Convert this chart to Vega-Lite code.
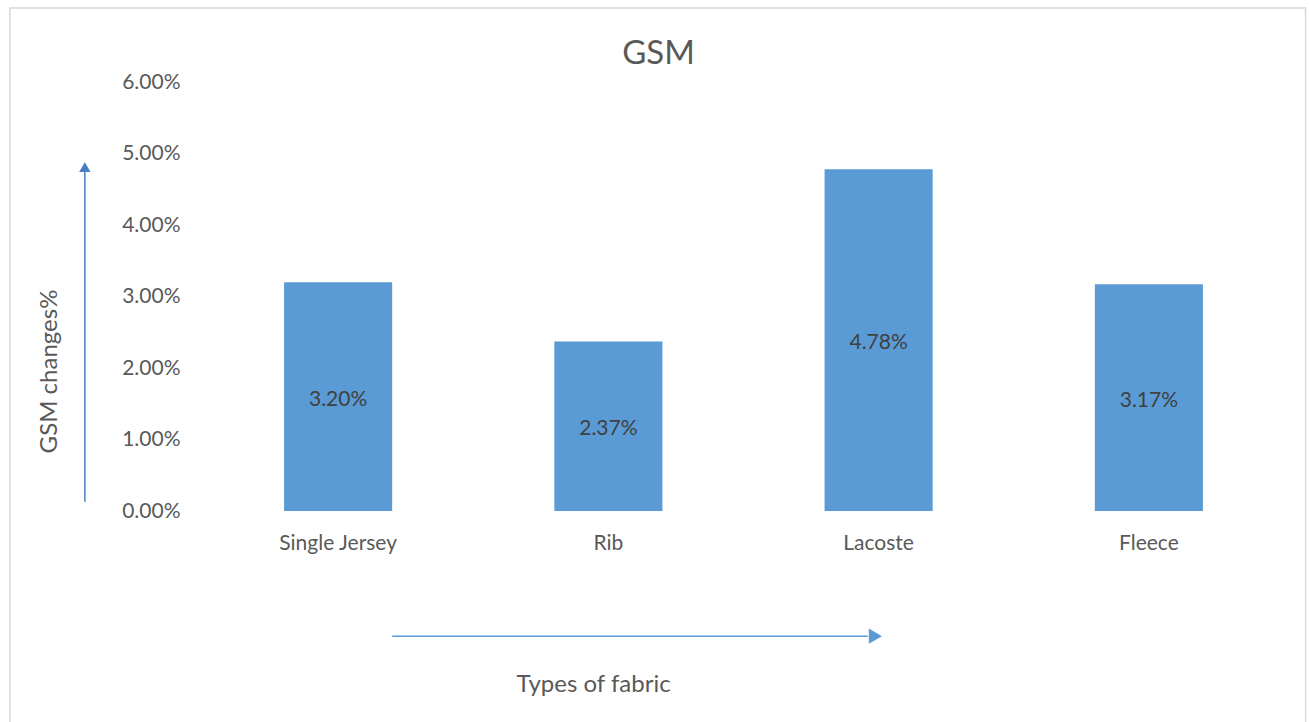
{
  "$schema": "https://vega.github.io/schema/vega-lite/v6.json",
  "width": 1081,
  "height": 429,
  "autosize": {"type": "none"},
  "padding": {"left": 203, "top": 82, "right": 25, "bottom": 211},
  "background": "white",
  "config": {
    "font": "Lato",
    "view": {"stroke": null},
    "axis": {"labelColor": "#595959", "titleColor": "#595959", "labelFont": "Lato", "titleFont": "Lato"}
  },
  "title": {
    "text": "GSM",
    "fontSize": 33,
    "fontWeight": "normal",
    "color": "#595959",
    "font": "Lato",
    "baseline": "alphabetic",
    "offset": -90,
    "dx": -85
  },
  "data": {
    "values": [
      {"fabric": "Single Jersey", "change": 0.032},
      {"fabric": "Rib", "change": 0.0237},
      {"fabric": "Lacoste", "change": 0.0478},
      {"fabric": "Fleece", "change": 0.0317}
    ]
  },
  "encoding": {
    "x": {
      "field": "fabric",
      "type": "nominal",
      "sort": null,
      "scale": {"domain": ["Single Jersey", "Rib", "Lacoste", "Fleece"], "paddingInner": 0.6, "paddingOuter": 0.3},
      "axis": {
        "title": "Types of fabric",
        "labelAngle": 0,
        "labelFontSize": 21,
        "labelPadding": 21,
        "titleFontSize": 24,
        "titleFontWeight": "normal",
        "titleX": 390,
        "titleY": 180,
        "titleBaseline": "alphabetic",
        "domain": false,
        "ticks": false
      }
    }
  },
  "layer": [
    {
      "data": {"values": [{}]},
      "mark": {"type": "rect", "fill": null, "stroke": "#D9D9D9", "strokeWidth": 1.5},
      "encoding": {
        "x": {"datum": "Single Jersey", "type": "nominal", "bandPosition": -2.537},
        "x2": {"datum": "Fleece", "bandPosition": 1.95},
        "y": {"datum": 0.07035},
        "y2": {"datum": -0.03}
      }
    },
    {
      "mark": {"type": "bar", "color": "#5B9BD5"},
      "encoding": {
        "y": {
          "field": "change",
          "type": "quantitative",
          "scale": {"domain": [0, 0.06]},
          "axis": {
            "title": "GSM changes%",
            "format": ".2%",
            "values": [0, 0.01, 0.02, 0.03, 0.04, 0.05, 0.06],
            "labelOverlap": false,
            "labelFontSize": 21,
            "labelPadding": 23,
            "titleFontSize": 24,
            "titleFontWeight": "normal",
            "titleX": -147,
            "titleY": 289,
            "titleAngle": -90,
            "titleAlign": "center",
            "titleBaseline": "alphabetic",
            "domain": false,
            "ticks": false,
            "gridColor": "#D9D9D9",
            "gridWidth": 1.3
          }
        }
      }
    },
    {
      "transform": [{"calculate": "datum.change / 2", "as": "mid"}],
      "mark": {"type": "text", "fontSize": 21, "color": "#404040", "baseline": "middle", "dy": 3},
      "encoding": {
        "y": {"field": "mid", "type": "quantitative"},
        "text": {"field": "change", "type": "quantitative", "format": ".2%"}
      }
    },
    {
      "data": {"values": [{}]},
      "mark": {"type": "rule", "color": "#4A7EC4", "strokeWidth": 1.5},
      "encoding": {
        "x": {"datum": "Single Jersey", "type": "nominal", "bandPosition": -1.843},
        "y": {"datum": 0.0013},
        "y2": {"datum": 0.0474}
      }
    },
    {
      "data": {"values": [{}]},
      "mark": {"type": "point", "shape": "triangle-up", "filled": true, "color": "#4A7EC4", "size": 130, "opacity": 1},
      "encoding": {
        "x": {"datum": "Single Jersey", "type": "nominal", "bandPosition": -1.843},
        "y": {"datum": 0.0481}
      }
    },
    {
      "data": {"values": [{}]},
      "mark": {"type": "rule", "color": "#5B9BD5", "strokeWidth": 1.5},
      "encoding": {
        "x": {"datum": "Single Jersey", "type": "nominal", "bandPosition": 1},
        "x2": {"datum": "Lacoste", "bandPosition": 0.4},
        "y": {"datum": -0.0175}
      }
    },
    {
      "data": {"values": [{}]},
      "mark": {"type": "point", "shape": "triangle-right", "filled": true, "color": "#5B9BD5", "size": 230, "opacity": 1},
      "encoding": {
        "x": {"datum": "Lacoste", "type": "nominal", "bandPosition": 0.47},
        "y": {"datum": -0.0175}
      }
    }
  ]
}
